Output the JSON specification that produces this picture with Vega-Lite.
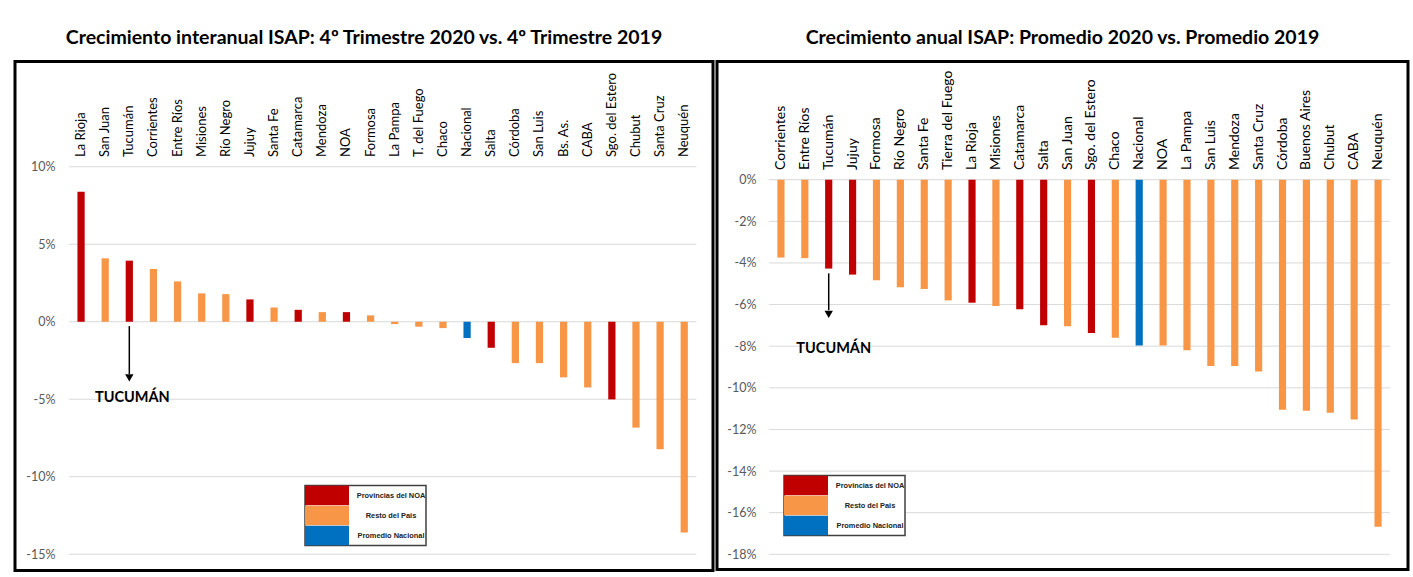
{
  "$schema": "https://vega.github.io/schema/vega-lite/v6.json",
  "background": "white",
  "padding": {"left": 13, "top": 26.5, "right": 4, "bottom": 2},
  "spacing": 0,
  "config": {
    "font": "Lato",
    "view": {"stroke": "black", "strokeWidth": 3},
    "title": {"font": "Lato", "fontSize": 19.5, "fontWeight": "bold", "color": "black", "anchor": "middle", "offset": 13},
    "legend": {"strokeWidth": 1.5}
  },
  "datasets": {
    "q4": [
      {"p": "La Rioja", "v": 8.39, "g": "Provincias del NOA"},
      {"p": "San Juan", "v": 4.09, "g": "Resto del Pais"},
      {"p": "Tucumán", "v": 3.94, "g": "Provincias del NOA"},
      {"p": "Corrientes", "v": 3.40, "g": "Resto del Pais"},
      {"p": "Entre Ríos", "v": 2.60, "g": "Resto del Pais"},
      {"p": "Misiones", "v": 1.83, "g": "Resto del Pais"},
      {"p": "Río Negro", "v": 1.78, "g": "Resto del Pais"},
      {"p": "Jujuy", "v": 1.44, "g": "Provincias del NOA"},
      {"p": "Santa Fe", "v": 0.92, "g": "Resto del Pais"},
      {"p": "Catamarca", "v": 0.77, "g": "Provincias del NOA"},
      {"p": "Mendoza", "v": 0.62, "g": "Resto del Pais"},
      {"p": "NOA", "v": 0.62, "g": "Provincias del NOA"},
      {"p": "Formosa", "v": 0.41, "g": "Resto del Pais"},
      {"p": "La Pampa", "v": -0.15, "g": "Resto del Pais"},
      {"p": "T. del Fuego", "v": -0.32, "g": "Resto del Pais"},
      {"p": "Chaco", "v": -0.41, "g": "Resto del Pais"},
      {"p": "Nacional", "v": -1.05, "g": "Promedio Nacional"},
      {"p": "Salta", "v": -1.68, "g": "Provincias del NOA"},
      {"p": "Córdoba", "v": -2.67, "g": "Resto del Pais"},
      {"p": "San Luis", "v": -2.67, "g": "Resto del Pais"},
      {"p": "Bs. As.", "v": -3.59, "g": "Resto del Pais"},
      {"p": "CABA", "v": -4.24, "g": "Resto del Pais"},
      {"p": "Sgo. del Estero", "v": -5.01, "g": "Provincias del NOA"},
      {"p": "Chubut", "v": -6.83, "g": "Resto del Pais"},
      {"p": "Santa Cruz", "v": -8.23, "g": "Resto del Pais"},
      {"p": "Neuquén", "v": -13.6, "g": "Resto del Pais"}
    ],
    "anual": [
      {"p": "Corrientes", "v": -3.74, "g": "Resto del Pais"},
      {"p": "Entre Ríos", "v": -3.77, "g": "Resto del Pais"},
      {"p": "Tucumán", "v": -4.27, "g": "Provincias del NOA"},
      {"p": "Jujuy", "v": -4.56, "g": "Provincias del NOA"},
      {"p": "Formosa", "v": -4.83, "g": "Resto del Pais"},
      {"p": "Río Negro", "v": -5.17, "g": "Resto del Pais"},
      {"p": "Santa Fe", "v": -5.25, "g": "Resto del Pais"},
      {"p": "Tierra del Fuego", "v": -5.8, "g": "Resto del Pais"},
      {"p": "La Rioja", "v": -5.91, "g": "Provincias del NOA"},
      {"p": "Misiones", "v": -6.07, "g": "Resto del Pais"},
      {"p": "Catamarca", "v": -6.23, "g": "Provincias del NOA"},
      {"p": "Salta", "v": -6.99, "g": "Provincias del NOA"},
      {"p": "San Juan", "v": -7.04, "g": "Resto del Pais"},
      {"p": "Sgo. del Estero", "v": -7.36, "g": "Provincias del NOA"},
      {"p": "Chaco", "v": -7.6, "g": "Resto del Pais"},
      {"p": "Nacional", "v": -7.97, "g": "Promedio Nacional"},
      {"p": "NOA", "v": -7.97, "g": "Resto del Pais"},
      {"p": "La Pampa", "v": -8.2, "g": "Resto del Pais"},
      {"p": "San Luis", "v": -8.95, "g": "Resto del Pais"},
      {"p": "Mendoza", "v": -8.95, "g": "Resto del Pais"},
      {"p": "Santa Cruz", "v": -9.22, "g": "Resto del Pais"},
      {"p": "Córdoba", "v": -11.05, "g": "Resto del Pais"},
      {"p": "Buenos Aires", "v": -11.1, "g": "Resto del Pais"},
      {"p": "Chubut", "v": -11.2, "g": "Resto del Pais"},
      {"p": "CABA", "v": -11.52, "g": "Resto del Pais"},
      {"p": "Neuquén", "v": -16.67, "g": "Resto del Pais"}
    ]
  },
  "resolve": {"legend": {"color": "independent"}, "scale": {"color": "independent"}},
  "hconcat": [
    {
      "title": "Crecimiento interanual ISAP: 4º Trimestre 2020 vs. 4º Trimestre 2019",
      "width": 698,
      "height": 509,
      "layer": [
        {
          "data": {"values": [{"t": 10}, {"t": 5}, {"t": 0}, {"t": -5}, {"t": -10}, {"t": -15}]},
          "mark": {"type": "rule", "color": "#D9D9D9", "strokeWidth": 1, "xOffset": -12, "x2Offset": 12},
          "encoding": {
            "y": {"field": "t", "type": "quantitative", "axis": {"title": null}, "scale": {"domain": [-16.05, 16.79], "nice": false, "zero": false}},
            "x": {"datum": "La Rioja", "type": "nominal", "axis": {"title": null}},
            "x2": {"datum": "Neuquén"}
          }
        },
        {
          "data": {"name": "q4"},
          "mark": {"type": "bar"},
          "encoding": {
            "x": {
              "field": "p", "type": "nominal", "sort": null,
              "scale": {"domain": ["La Rioja","San Juan","Tucumán","Corrientes","Entre Ríos","Misiones","Río Negro","Jujuy","Santa Fe","Catamarca","Mendoza","NOA","Formosa","La Pampa","T. del Fuego","Chaco","Nacional","Salta","Córdoba","San Luis","Bs. As.","CABA","Sgo. del Estero","Chubut","Santa Cruz","Neuquén"], "range": [54, 681.3], "paddingInner": 0.7, "paddingOuter": 0.35},
              "axis": {"orient": "top", "title": null, "labelAngle": -90, "labelAlign": "left", "labelBaseline": "middle", "offset": -95, "labelPadding": 0, "tickSize": 0, "domain": false, "ticks": false, "grid": false, "labelFont": "Lato", "labelFontSize": 13, "labelColor": "black", "labelLimit": 200, "zindex": 2}
            },
            "y": {
              "field": "v", "type": "quantitative",
              "scale": {"domain": [-16.05, 16.79], "nice": false, "zero": false},
              "axis": {"title": null, "values": [-15, -10, -5, 0, 5, 10], "labelExpr": "datum.value + '%'", "grid": false, "domain": false, "ticks": false, "tickSize": 0, "offset": -40, "labelPadding": 0, "labelFont": "Lato", "labelFontSize": 12.5, "labelColor": "#595959", "zindex": 2}
            },
            "color": {
              "field": "g", "type": "nominal",
              "scale": {"domain": ["Provincias del NOA", "Resto del Pais", "Promedio Nacional"], "range": ["#C00000", "#F79646", "#0070C0"]},
              "legend": {"orient": "none", "legendX": 290, "legendY": 424, "title": null, "direction": "vertical", "symbolType": "M-1,-0.4545H1V0.4545H-1Z", "symbolSize": 1936, "clipHeight": 20, "symbolStrokeWidth": 0, "symbolOpacity": 1, "rowPadding": 0, "labelAlign": "center", "labelOffset": 42, "labelFont": "'Liberation Sans Narrow', 'Liberation Sans', Arial, sans-serif", "labelFontWeight": "bold", "labelFontSize": 7.4, "labelColor": "#222222", "strokeColor": "#404040", "padding": 0, "fillColor": "white"}
            }
          }
        },
        {
          "data": {"values": [{"p": "Tucumán", "a": -0.28, "b": -3.37}]},
          "mark": {"type": "rule", "color": "black", "strokeWidth": 1.5},
          "encoding": {
            "x": {"field": "p", "type": "nominal", "axis": {"title": null}},
            "y": {"field": "a", "type": "quantitative", "axis": {"title": null}},
            "y2": {"field": "b"}
          }
        },
        {
          "data": {"values": [{"p": "Tucumán", "a": -3.63}]},
          "mark": {"type": "point", "shape": "triangle-down", "filled": true, "color": "black", "opacity": 1, "size": 70},
          "encoding": {
            "x": {"field": "p", "type": "nominal", "axis": {"title": null}},
            "y": {"field": "a", "type": "quantitative", "axis": {"title": null}}
          }
        },
        {
          "data": {"values": [{"p": "Tucumán", "a": -4.95, "txt": "TUCUMÁN"}]},
          "mark": {"type": "text", "font": "Lato", "fontWeight": "bold", "fontSize": 14.5, "color": "black", "dx": 3, "baseline": "middle"},
          "encoding": {
            "x": {"field": "p", "type": "nominal", "axis": {"title": null}},
            "y": {"field": "a", "type": "quantitative", "axis": {"title": null}},
            "text": {"field": "txt"}
          }
        }
      ]
    },
    {
      "title": "Crecimiento anual ISAP: Promedio 2020 vs. Promedio 2019",
      "width": 691,
      "height": 508,
      "layer": [
        {
          "data": {"values": [{"t": 0}, {"t": -2}, {"t": -4}, {"t": -6}, {"t": -8}, {"t": -10}, {"t": -12}, {"t": -14}, {"t": -16}, {"t": -18}]},
          "mark": {"type": "rule", "color": "#D9D9D9", "strokeWidth": 1, "xOffset": -12, "x2Offset": 12},
          "encoding": {
            "y": {"field": "t", "type": "quantitative", "axis": {"title": null}, "scale": {"domain": [-18.73, 5.68], "nice": false, "zero": false}},
            "x": {"datum": "Corrientes", "type": "nominal", "axis": {"title": null}},
            "x2": {"datum": "Neuquén"}
          }
        },
        {
          "data": {"name": "anual"},
          "mark": {"type": "bar"},
          "encoding": {
            "x": {
              "field": "p", "type": "nominal", "sort": null,
              "scale": {"domain": ["Corrientes","Entre Ríos","Tucumán","Jujuy","Formosa","Río Negro","Santa Fe","Tierra del Fuego","La Rioja","Misiones","Catamarca","Salta","San Juan","Sgo. del Estero","Chaco","Nacional","NOA","La Pampa","San Luis","Mendoza","Santa Cruz","Córdoba","Buenos Aires","Chubut","CABA","Neuquén"], "range": [52, 673], "paddingInner": 0.7, "paddingOuter": 0.35},
              "axis": {"orient": "top", "title": null, "labelAngle": -90, "labelAlign": "left", "labelBaseline": "middle", "offset": -108, "labelPadding": 0, "tickSize": 0, "domain": false, "ticks": false, "grid": false, "labelFont": "Lato", "labelFontSize": 14, "labelColor": "black", "labelLimit": 200, "zindex": 2}
            },
            "y": {
              "field": "v", "type": "quantitative",
              "scale": {"domain": [-18.73, 5.68], "nice": false, "zero": false},
              "axis": {"title": null, "values": [-18, -16, -14, -12, -10, -8, -6, -4, -2, 0], "labelExpr": "datum.value + '%'", "grid": false, "domain": false, "ticks": false, "tickSize": 0, "offset": -39, "labelPadding": 0, "labelFont": "Lato", "labelFontSize": 12.5, "labelColor": "#595959", "zindex": 2}
            },
            "color": {
              "field": "g", "type": "nominal",
              "scale": {"domain": ["Provincias del NOA", "Resto del Pais", "Promedio Nacional"], "range": ["#C00000", "#F79646", "#0070C0"]},
              "legend": {"orient": "none", "legendX": 67, "legendY": 414, "title": null, "direction": "vertical", "symbolType": "M-1,-0.4545H1V0.4545H-1Z", "symbolSize": 1936, "clipHeight": 20, "symbolStrokeWidth": 0, "symbolOpacity": 1, "rowPadding": 0, "labelAlign": "center", "labelOffset": 42, "labelFont": "'Liberation Sans Narrow', 'Liberation Sans', Arial, sans-serif", "labelFontWeight": "bold", "labelFontSize": 7.4, "labelColor": "#222222", "strokeColor": "#404040", "padding": 0, "fillColor": "white"}
            }
          }
        },
        {
          "data": {"values": [{"p": "Tucumán", "a": -4.5, "b": -6.27}]},
          "mark": {"type": "rule", "color": "black", "strokeWidth": 1.5},
          "encoding": {
            "x": {"field": "p", "type": "nominal", "axis": {"title": null}},
            "y": {"field": "a", "type": "quantitative", "axis": {"title": null}},
            "y2": {"field": "b"}
          }
        },
        {
          "data": {"values": [{"p": "Tucumán", "a": -6.47}]},
          "mark": {"type": "point", "shape": "triangle-down", "filled": true, "color": "black", "opacity": 1, "size": 70},
          "encoding": {
            "x": {"field": "p", "type": "nominal", "axis": {"title": null}},
            "y": {"field": "a", "type": "quantitative", "axis": {"title": null}}
          }
        },
        {
          "data": {"values": [{"p": "Tucumán", "a": -8.15, "txt": "TUCUMÁN"}]},
          "mark": {"type": "text", "font": "Lato", "fontWeight": "bold", "fontSize": 14.5, "color": "black", "dx": 5, "baseline": "middle"},
          "encoding": {
            "x": {"field": "p", "type": "nominal", "axis": {"title": null}},
            "y": {"field": "a", "type": "quantitative", "axis": {"title": null}},
            "text": {"field": "txt"}
          }
        }
      ]
    }
  ]
}
